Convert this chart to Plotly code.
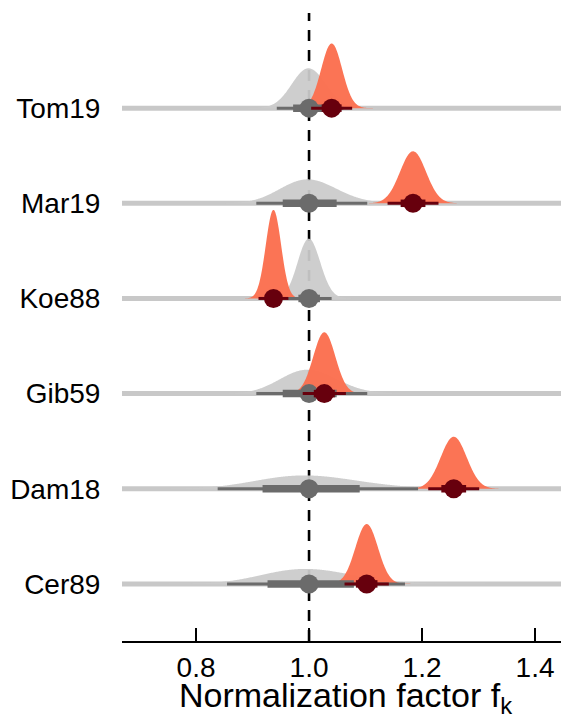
import numpy as np
import plotly.graph_objects as go

# studies, top to bottom
studies = ["Tom19", "Mar19", "Koe88", "Gib59", "Dam18", "Cer89"]
# prior: lognormal, median 1, log-sd
prior_sigma = [0.03, 0.05, 0.02, 0.05, 0.09, 0.08]
# posterior: normal
post_mean = [1.040, 1.184, 0.937, 1.027, 1.256, 1.102]
post_sigma = [0.0185, 0.023, 0.0135, 0.0195, 0.023, 0.020]

x_ticks = [0.8, 1.0, 1.2, 1.4]

FONT = "Liberation Sans, Arial, sans-serif"
GRAY_FILL = "rgba(203,203,203,0.94)"
ORANGE = "rgba(251,112,80,0.97)"
GRAY_PT = "#6b6b6b"
RED_PT = "#67000d"
Z66, Z95 = 0.954, 1.96
dens_scale = 3.0 / 95.2  # rows per unit of density

n = len(studies)
rows = [n - 1 - i for i in range(n)]
xs = np.linspace(0.6, 1.5, 900)

fig = go.Figure()

# densities
for i in range(n):
    r = rows[i]
    s = prior_sigma[i]
    pdf = np.exp(-np.log(xs) ** 2 / (2 * s * s)) / (xs * s * np.sqrt(2 * np.pi))
    fig.add_trace(go.Scatter(x=np.r_[xs[0], xs, xs[-1]], y=np.r_[r, r + dens_scale * pdf, r],
                             fill="toself", fillcolor=GRAY_FILL, mode="none", hoverinfo="skip"))
for i in range(n):
    r = rows[i]
    m, s = post_mean[i], post_sigma[i]
    pdf = np.exp(-(xs - m) ** 2 / (2 * s * s)) / (s * np.sqrt(2 * np.pi))
    fig.add_trace(go.Scatter(x=np.r_[xs[0], xs, xs[-1]], y=np.r_[r, r + dens_scale * pdf, r],
                             fill="toself", fillcolor=ORANGE, mode="none", hoverinfo="skip"))

# intervals and points
for i in range(n):
    r = rows[i]
    s = prior_sigma[i]
    fig.add_trace(go.Scatter(x=[np.exp(-Z95 * s), np.exp(Z95 * s)], y=[r, r], mode="lines",
                             line=dict(color=GRAY_PT, width=3)))
    fig.add_trace(go.Scatter(x=[np.exp(-Z66 * s), np.exp(Z66 * s)], y=[r, r], mode="lines",
                             line=dict(color=GRAY_PT, width=7.5)))
    fig.add_trace(go.Scatter(x=[1.0], y=[r], mode="markers",
                             marker=dict(color=GRAY_PT, size=19)))
for i in range(n):
    r = rows[i]
    m, s = post_mean[i], post_sigma[i]
    fig.add_trace(go.Scatter(x=[m - Z95 * s, m + Z95 * s], y=[r, r], mode="lines",
                             line=dict(color=RED_PT, width=3)))
    fig.add_trace(go.Scatter(x=[m - Z66 * s, m + Z66 * s], y=[r, r], mode="lines",
                             line=dict(color=RED_PT, width=7.5)))
    fig.add_trace(go.Scatter(x=[m], y=[r], mode="markers",
                             marker=dict(color=RED_PT, size=19)))

# baselines and reference line
for r in rows:
    fig.add_shape(type="line", xref="paper", x0=0, x1=1, y0=r, y1=r, layer="below",
                  line=dict(color="#c8c8c8", width=5))
fig.add_shape(type="line", x0=1.0, x1=1.0, yref="paper", y0=0, y1=1, layer="below",
              line=dict(color="black", width=2.6, dash="11px,9px"))

# page body has an 8px margin, so the figure is 8px smaller than the window
fig.update_layout(
    width=561, height=711,
    margin=dict(l=114, r=0, t=5, b=78),
    plot_bgcolor="white", paper_bgcolor="white",
    showlegend=False,
    font=dict(family=FONT, size=28, color="black"),
    xaxis=dict(range=[0.669, 1.46], tickvals=x_ticks, ticktext=["0.8", "1.0", "1.2", "1.4"],
               ticks="inside", ticklen=13, tickwidth=2.3, tickcolor="black",
               showline=True, linecolor="black", linewidth=2.3, showgrid=False, zeroline=False,
               automargin=True,
               title=dict(text="Normalization factor f<sub>k</sub>", standoff=4)),
    yaxis=dict(range=[-0.6, 6.0], tickvals=rows, ticktext=studies,
               ticks="outside", ticklen=15, tickcolor="rgba(0,0,0,0)",
               showline=False, showgrid=False, zeroline=False, automargin=False),
)

fig.write_html("out.html")
